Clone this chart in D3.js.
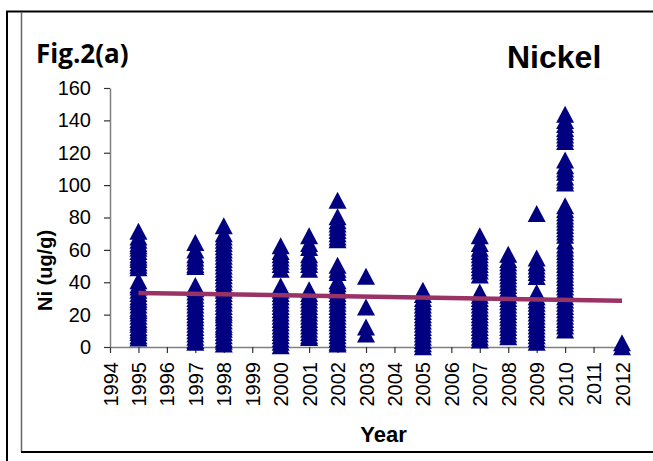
<!DOCTYPE html>
<html>
<head>
<meta charset="utf-8">
<script src="https://cdn.jsdelivr.net/npm/d3@7/dist/d3.min.js"></script>
<style>
    body { margin: 0; background: #fff; }
    svg { display: block; }
</style>
</head>
<body>
<svg id="chart"></svg>
<script>
// Ni (ug/g) readings per sampling year
const ni1995 = [5.5, 7, 9, 10.5, 12, 14, 15.5, 17, 19, 21, 22.5, 24, 26, 28, 29.5, 31, 33, 35, 37, 38.5, 41, 49, 50.5, 52, 54, 55.5, 57, 59, 61, 62.5, 64, 66, 68, 71.5]
const ni1997 = [3, 4, 6, 8, 10, 12, 14, 16, 18, 20, 22, 24, 26, 28, 30, 32, 34, 36, 38, 49.7, 51, 53, 55, 57, 60, 64.5]
const ni1998 = [1.8, 3.5, 5, 7, 9, 11, 12.5, 14, 16, 18, 20, 21.5, 23, 25, 27, 29, 31, 33, 35, 36.5, 38, 40, 42, 44, 46, 48, 50, 52, 54, 56, 58, 60, 62, 64, 66, 68, 70, 74.9]
const ni2000 = [0.7, 3, 5, 7, 9, 11, 13, 15, 17, 19, 21, 23, 25, 27, 29, 31, 33, 35, 37.7, 48, 51, 53, 55, 57, 59, 62.5]
const ni2001 = [5.9, 7, 9, 11, 13, 15, 17, 19, 21, 23, 25, 27, 29, 31, 33, 35.4, 48, 51, 53, 55, 57, 61.5, 64, 68.7]
const ni2002 = [1.8, 3, 5, 7, 9, 11, 13, 15, 17, 19, 21, 23, 25, 27, 29, 31, 33, 35, 37, 39, 41, 46, 48, 50.5, 66.2, 68, 70, 72, 74, 76, 78, 80.5, 90.7]
const ni2003 = [8, 12.3, 24.7, 43.7]
const ni2005 = [0.1, 2, 4, 6, 8, 10, 12, 14, 16, 18, 20, 22, 24, 26, 28, 30, 32.5, 35]
const ni2007 = [4.3, 6, 8, 10, 12, 14, 16, 18, 20, 22, 24, 26, 28, 30, 32, 34, 44.5, 47, 49, 51, 53, 55, 57, 59, 61, 64, 68.7]
const ni2008 = [6.3, 8, 10, 12, 14, 16, 18, 20, 22, 24, 26, 28, 30, 32, 34, 36, 38, 40, 42, 44, 46, 48, 50, 52, 54, 57.3]
const ni2009 = [3, 5, 7, 9, 11, 13, 15, 17, 19, 21, 23, 25, 27, 29, 31, 33.6, 43.5, 46, 48, 50, 52, 55, 82.5]
const ni2010 = [10.5, 13, 15, 17, 19, 21, 23, 25, 27, 29, 31, 33, 35, 37, 39, 41, 43, 45, 47, 49, 51, 53, 55, 57, 59, 61, 63, 65.5,
    69, 71, 73, 75, 77, 79, 81, 83, 85, 87.3, 101.3, 103, 105, 108, 110, 112, 115.5, 127, 129, 131, 133, 135, 137.5, 140, 143.8]
const ni2012 = [0.1, 2.6]

const sampleYears = [1995, 1997, 1998, 2000, 2001, 2002, 2003, 2005, 2007, 2008, 2009, 2010, 2012]
const sampleValues = [ni1995, ni1997, ni1998, ni2000, ni2001, ni2002, ni2003, ni2005, ni2007, ni2008, ni2009, ni2010, ni2012]

// linear trend line end points
const trendYears = [1995, 2012]
const trendValues = [33.4, 28.5]

const xTickValues = [1994, 1995, 1996, 1997, 1998, 1999, 2000, 2001, 2002, 2003, 2004, 2005, 2006, 2007, 2008, 2009, 2010, 2011, 2012]
const yTickValues = [0, 20, 40, 60, 80, 100, 120, 140, 160]

class ScatterPlot {

    constructor(_config, _data, _trend) {
        this.config = {
            parentElement: _config.parentElement,
            containerWidth: _config.containerWidth || 653,
            containerHeight: _config.containerHeight || 461,
            margin: { top: 88, right: 31, bottom: 114, left: 110 }
        }

        this.data = _data
        this.trend = _trend

        this.initVis()
    }

    initVis() {
        let vis = this

        vis.width = vis.config.containerWidth - vis.config.margin.left - vis.config.margin.right
        vis.height = vis.config.containerHeight - vis.config.margin.top - vis.config.margin.bottom

        vis.svg = d3.select(vis.config.parentElement)
            .attr('width', vis.config.containerWidth)
            .attr('height', vis.config.containerHeight)

        // frame of the figure box
        vis.svg.append('line')
            .attr('x1', 7).attr('y1', 11).attr('x2', 7).attr('y2', 461)
            .attr('stroke', '#000').attr('stroke-width', 2)
        vis.svg.append('line')
            .attr('x1', 6).attr('y1', 11.5).attr('x2', 653).attr('y2', 11.5)
            .attr('stroke', '#000').attr('stroke-width', 2)
        vis.svg.append('line')
            .attr('x1', 21.5).attr('y1', 12).attr('x2', 21.5).attr('y2', 452)
            .attr('stroke', '#666').attr('stroke-width', 1.5)
        vis.svg.append('line')
            .attr('x1', 21).attr('y1', 452).attr('x2', 653).attr('y2', 452)
            .attr('stroke', '#000').attr('stroke-width', 2)

        vis.svg.append('text')
            .attr('x', 36).attr('y', 63)
            .attr('font-family', '"Open Sans", sans-serif')
            .attr('font-weight', 'bold')
            .attr('font-size', 26)
            .text('Fig.2(a)')

        vis.svg.append('text')
            .attr('x', 507).attr('y', 68)
            .attr('font-family', '"Liberation Sans", Arial, sans-serif')
            .attr('font-weight', 'bold')
            .attr('font-size', 32)
            .text('Nickel')

        vis.svg.append('text')
            .attr('x', 383.5).attr('y', 442)
            .attr('text-anchor', 'middle')
            .attr('font-family', '"Liberation Sans", Arial, sans-serif')
            .attr('font-weight', 'bold')
            .attr('font-size', 22)
            .text('Year')

        vis.svg.append('text')
            .attr('transform', 'translate(52, 270.5) rotate(-90)')
            .attr('text-anchor', 'middle')
            .attr('font-family', '"Liberation Sans", Arial, sans-serif')
            .attr('font-weight', 'bold')
            .attr('font-size', 20)
            .text('Ni (ug/g)')

        vis.chart = vis.svg.append('g')
            .attr('transform', `translate(${vis.config.margin.left}, ${vis.config.margin.top})`)

        vis.xScale = d3.scaleLinear()
            .domain([1994, 2012])
            .range([0, vis.width])

        vis.yScale = d3.scaleLinear()
            .domain([0, 160])
            .range([vis.height, 0])

        vis.xAxis = d3.axisBottom(vis.xScale)
            .tickValues(xTickValues)
            .tickFormat(d3.format('d'))
            .tickSize(6)
            .tickSizeOuter(0)

        vis.yAxis = d3.axisLeft(vis.yScale)
            .tickValues(yTickValues)
            .tickSize(6)
            .tickSizeOuter(0)
            .tickPadding(13)

        vis.xAxisGroup = vis.chart.append('g')
            .attr('class', 'axis x-axis')
            .attr('transform', `translate(0, ${vis.height})`)

        vis.yAxisGroup = vis.chart.append('g')
            .attr('class', 'axis y-axis')

        vis.updateVis()
    }

    updateVis() {
        let vis = this

        vis.points = []
        vis.data.years.forEach((year, i) => {
            vis.data.values[i].forEach(v => vis.points.push({ year: year, value: v }))
        })

        vis.trendPoints = vis.trend.years.map((year, i) => ({ year: year, value: vis.trend.values[i] }))

        vis.renderVis()
    }

    renderVis() {
        let vis = this

        vis.xAxisGroup.call(vis.xAxis)
        vis.yAxisGroup.call(vis.yAxis)

        vis.chart.selectAll('.axis .domain')
            .attr('stroke', '#808080')
            .attr('stroke-width', 1.5)
        vis.chart.selectAll('.axis .tick line')
            .attr('stroke', '#333')
            .attr('stroke-width', 1.2)
        vis.chart.selectAll('.axis text')
            .attr('font-family', '"Liberation Sans", Arial, sans-serif')
            .attr('font-size', 20)
            .attr('fill', '#000')

        vis.xAxisGroup.selectAll('text')
            .attr('transform', 'rotate(-90)')
            .attr('text-anchor', 'end')
            .attr('x', -15)
            .attr('y', 0)
            .attr('dy', '0.35em')

        // triangle markers, Excel style (box 18 x 17 around the point)
        vis.chart.selectAll('.marker')
            .data(vis.points)
            .join('path')
                .attr('class', 'marker')
                .attr('fill', '#000080')
                .attr('d', d => {
                    const x = vis.xScale(d.year)
                    const y = vis.yScale(d.value)
                    return `M${x},${y - 8.5}L${x + 9},${y + 8.5}L${x - 9},${y + 8.5}Z`
                })

        const line = d3.line()
            .x(d => vis.xScale(d.year))
            .y(d => vis.yScale(d.value))

        vis.chart.append('path')
            .datum(vis.trendPoints)
            .attr('class', 'trend')
            .attr('fill', 'none')
            .attr('stroke', '#993366')
            .attr('stroke-width', 4.5)
            .attr('d', line)
    }
}

const scatter = new ScatterPlot(
    { parentElement: '#chart', containerWidth: 653, containerHeight: 461 },
    { years: sampleYears, values: sampleValues },
    { years: trendYears, values: trendValues }
)
</script>
</body>
</html>
